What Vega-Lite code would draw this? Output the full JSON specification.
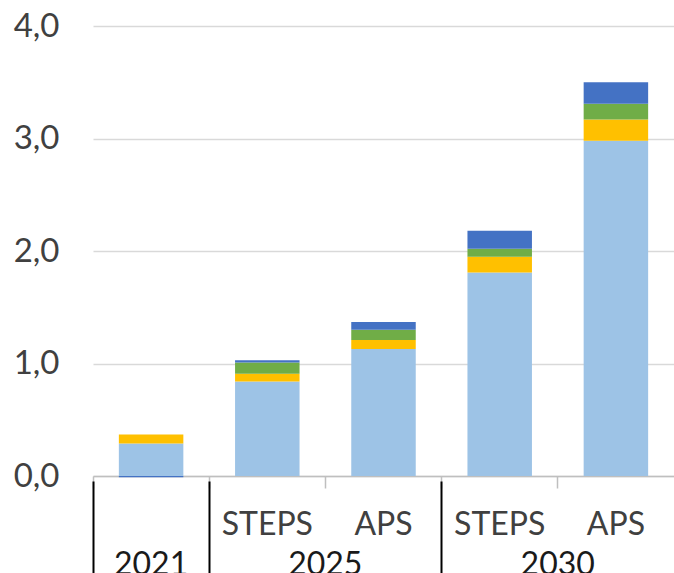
{
  "$schema": "https://vega.github.io/schema/vega-lite/v6.json",
  "width": 581,
  "height": 450,
  "autosize": "none",
  "padding": {"left": 93, "top": 26, "right": 0, "bottom": 97},
  "background": "white",
  "config": {"view": {"stroke": null}, "font": "Lato"},
  "datasets": {
    "bars": [
      {"cat": "2021", "series": "Series 1", "value": 0.29},
      {"cat": "2021", "series": "Series 2", "value": 0.08},
      {"cat": "2021", "series": "Series 4", "value": -0.01},
      {"cat": "2025 STEPS", "series": "Series 1", "value": 0.84},
      {"cat": "2025 STEPS", "series": "Series 2", "value": 0.07},
      {"cat": "2025 STEPS", "series": "Series 3", "value": 0.10},
      {"cat": "2025 STEPS", "series": "Series 4", "value": 0.02},
      {"cat": "2025 APS", "series": "Series 1", "value": 1.13},
      {"cat": "2025 APS", "series": "Series 2", "value": 0.08},
      {"cat": "2025 APS", "series": "Series 3", "value": 0.09},
      {"cat": "2025 APS", "series": "Series 4", "value": 0.07},
      {"cat": "2030 STEPS", "series": "Series 1", "value": 1.81},
      {"cat": "2030 STEPS", "series": "Series 2", "value": 0.14},
      {"cat": "2030 STEPS", "series": "Series 3", "value": 0.07},
      {"cat": "2030 STEPS", "series": "Series 4", "value": 0.16},
      {"cat": "2030 APS", "series": "Series 1", "value": 2.98},
      {"cat": "2030 APS", "series": "Series 2", "value": 0.19},
      {"cat": "2030 APS", "series": "Series 3", "value": 0.14},
      {"cat": "2030 APS", "series": "Series 4", "value": 0.19}
    ]
  },
  "resolve": {"axis": {"x": "independent"}},
  "layer": [
    {
      "data": {"name": "bars"},
      "mark": {"type": "bar", "width": {"band": 0.555}},
      "encoding": {
        "x": {
          "field": "cat", "type": "nominal",
          "scale": {"domain": ["2021", "2025 STEPS", "2025 APS", "2030 STEPS", "2030 APS"], "paddingInner": 0, "paddingOuter": 0},
          "axis": {"orient": "bottom", "title": null, "ticks": false, "grid": false, "domain": true, "domainColor": "#BFBFBF", "domainWidth": 1.5, "labelAngle": 0, "labelExpr": "indexof(datum.label, ' ') > 0 ? split(datum.label, ' ')[1] : ''", "labelFont": "Lato", "labelFontSize": 32, "labelColor": "#404040", "labelPadding": 33, "labelBaseline": "top"}
        },
        "y": {
          "field": "value", "type": "quantitative", "stack": "zero",
          "scale": {"domain": [0, 4], "nice": false},
          "axis": {"title": null, "values": [0, 1, 2, 3, 4], "labelExpr": "replace(format(datum.value, '.1f'), '.', ',')", "domain": false, "ticks": false, "grid": true, "gridColor": "#D9D9D9", "gridWidth": 1.5, "labelFont": "Lato", "labelFontSize": 33, "labelColor": "#404040", "labelPadding": 34}
        },
        "color": {
          "field": "series", "type": "nominal",
          "scale": {"domain": ["Series 1", "Series 2", "Series 3", "Series 4"], "range": ["#9DC3E6", "#FFC000", "#70AD47", "#4472C4"]},
          "legend": null
        },
        "order": {"field": "series", "sort": "ascending"}
      }
    },
    {
      "data": {"name": "bars"},
      "transform": [{"filter": "false"}],
      "mark": "tick",
      "encoding": {
        "x": {
          "field": "cat", "type": "nominal",
          "scale": {"domain": ["2021", "2025 STEPS", "2025 APS", "2030 STEPS", "2030 APS"], "paddingInner": 0, "paddingOuter": 0},
          "axis": {"orient": "bottom", "title": null, "values": ["2021", "2025 STEPS", "2025 APS", "2030 STEPS", "2030 APS"], "bandPosition": 0, "labels": false, "domain": false, "grid": false, "ticks": true, "tickSize": 12, "tickColor": "#BFBFBF", "tickWidth": 1.5}
        }
      }
    },
    {
      "data": {"name": "bars"},
      "transform": [{"filter": "false"}],
      "mark": "tick",
      "encoding": {
        "x": {
          "field": "cat", "type": "nominal",
          "scale": {"domain": ["2021", "2025 STEPS", "2025 APS", "2030 STEPS", "2030 APS"], "paddingInner": 0, "paddingOuter": 0},
          "axis": {"orient": "bottom", "title": null, "offset": 5, "values": ["2021", "2025 STEPS", "2030 STEPS"], "bandPosition": 0, "labels": false, "domain": false, "grid": false, "ticks": true, "tickSize": 100, "tickColor": "#000000", "tickWidth": 2}
        }
      }
    },
    {
      "data": {"name": "bars"},
      "transform": [{"filter": "false"}],
      "mark": "tick",
      "encoding": {
        "x": {
          "field": "cat", "type": "nominal",
          "scale": {"domain": ["2021", "2025 STEPS", "2025 APS", "2030 STEPS", "2030 APS"], "paddingInner": 0, "paddingOuter": 0},
          "axis": {"orient": "bottom", "title": null, "values": ["2025 STEPS", "2030 STEPS"], "ticks": false, "domain": false, "grid": false, "labelAngle": 0, "labelOffset": 58, "labelExpr": "split(datum.label, ' ')[0]", "labelFont": "Lato", "labelFontSize": 32, "labelColor": "#1A1A1A", "labelPadding": 73, "labelBaseline": "top"}
        }
      }
    },
    {
      "data": {"name": "bars"},
      "transform": [{"filter": "false"}],
      "mark": "tick",
      "encoding": {
        "x": {
          "field": "cat", "type": "nominal",
          "scale": {"domain": ["2021", "2025 STEPS", "2025 APS", "2030 STEPS", "2030 APS"], "paddingInner": 0, "paddingOuter": 0},
          "axis": {"orient": "bottom", "title": null, "values": ["2021"], "ticks": false, "domain": false, "grid": false, "labelAngle": 0, "labelFont": "Lato", "labelFontSize": 32, "labelColor": "#1A1A1A", "labelPadding": 73, "labelBaseline": "top"}
        }
      }
    }
  ]
}
